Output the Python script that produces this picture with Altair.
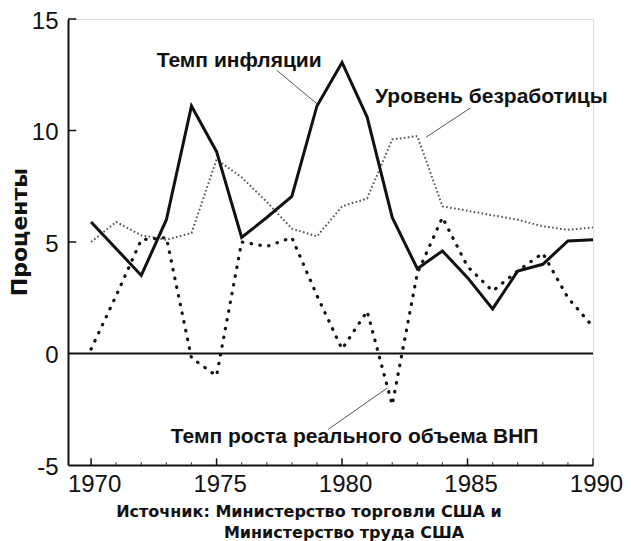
import altair as alt
import pandas as pd

years = list(range(1970, 1991))
inflation = [5.9, 4.7, 3.5, 6.0, 11.1, 9.05, 5.2, 6.1, 7.05, 11.1, 13.05, 10.6,
             6.1, 3.8, 4.6, 3.4, 2.0, 3.7, 4.0, 5.05, 5.1]
unemployment = [5.0, 5.9, 5.3, 5.1, 5.4, 8.7, 7.9, 6.8, 5.6, 5.25, 6.6, 6.95,
                9.6, 9.75, 6.6, 6.4, 6.2, 6.0, 5.7, 5.55, 5.65]
gnp_growth = [0.2, 2.6, 5.1, 5.2, -0.2, -1.0, 5.0, 4.8, 5.2, 2.6, 0.2, 1.9,
              -2.3, 3.6, 6.1, 3.9, 2.8, 3.7, 4.5, 2.5, 1.2]

x_ticks = [1970, 1975, 1980, 1985, 1990]
y_ticks = [-5, 0, 5, 10, 15]
label_texts = ["Темп инфляции", "Уровень безработицы", "Темп роста реального объема ВНП"]
label_x = [1975.9, 1985.95, 1980.5]
label_y = [13.1, 11.5, -3.75]
leader_x = [1977.4, 1985.1, 1981.8]
leader_y = [12.7, 11.0, -1.55]
leader_x2 = [1979.0, 1983.35, 1979.45]
leader_y2 = [11.2, 9.7, -3.4]
source_lines = ["Источник: Министерство торговли США и", "Министерство труда США"]
source_x = [1978.68, 1980.08]
source_y = [-7.33, -8.27]

X0, X1 = 1969.08, 1990
FONT = "Liberation Sans"

xs = alt.Scale(domain=[X0, X1], nice=False, zero=False)
ys = alt.Scale(domain=[-5, 15], nice=False, zero=False)

df = pd.DataFrame({"year": years, "inf": inflation, "unemp": unemployment, "gnp": gnp_growth})

base = alt.Chart(df)

gnp_line = base.mark_line(color="#111", strokeWidth=3.2, strokeDash=[0.5, 8.4],
                          strokeCap="round").encode(
    x=alt.X("year:Q", scale=xs,
            axis=alt.Axis(values=x_ticks, format="d", tickSize=0, labelPadding=7,
                          labelOffset=3,
                          labelFontSize=24, labelFont=FONT, labelColor="#111",
                          domainColor="#111", domainWidth=2, grid=False, title=None,
                          labelFlush=False)),
    y=alt.Y("gnp:Q", scale=ys,
            axis=alt.Axis(values=y_ticks, tickSize=0, labelPadding=10, labelOffset=2,
                          labelExpr="replace(datum.label, '\u2212', '-')",
                          labelFontSize=24, labelFont=FONT, labelColor="#111",
                          domainColor="#111", domainWidth=2, grid=False, title=None)),
)
unemp_line = base.mark_line(color="#555", strokeWidth=2, strokeDash=[1.6, 2.4]).encode(
    x=alt.X("year:Q", scale=xs), y=alt.Y("unemp:Q", scale=ys))
inf_line = base.mark_line(color="#111", strokeWidth=3).encode(
    x=alt.X("year:Q", scale=xs), y=alt.Y("inf:Q", scale=ys))

zero_df = pd.DataFrame({"x": [X0], "x2": [X1], "y": [0]})
zero_rule = alt.Chart(zero_df).mark_rule(color="#111", strokeWidth=2).encode(
    x=alt.X("x:Q", scale=xs), x2="x2:Q", y=alt.Y("y:Q", scale=ys))

# inward tick marks
ymaj = pd.DataFrame({"v": [5, 10, 15], "x": [X0] * 3, "x2": [X0 + 0.33] * 3})
ytick_rules = alt.Chart(ymaj).mark_rule(color="#111", strokeWidth=1.5).encode(
    x=alt.X("x:Q", scale=xs), x2="x2:Q", y=alt.Y("v:Q", scale=ys))
xmaj = pd.DataFrame({"v": x_ticks, "y": [-5] * 5, "y2": [-4.7] * 5})
xtick_rules = alt.Chart(xmaj).mark_rule(color="#111", strokeWidth=1.5).encode(
    x=alt.X("v:Q", scale=xs), y=alt.Y("y:Q", scale=ys), y2="y2:Q")
minor = [yr for yr in years if yr not in x_ticks]
xmin = pd.DataFrame({"v": minor, "y": [-5] * len(minor), "y2": [-4.88] * len(minor)})
xminor_rules = alt.Chart(xmin).mark_rule(color="#444", strokeWidth=1.2).encode(
    x=alt.X("v:Q", scale=xs), y=alt.Y("y:Q", scale=ys), y2="y2:Q")

lead_df = pd.DataFrame({"x": leader_x, "y": leader_y, "x2": leader_x2, "y2": leader_y2})
leaders = alt.Chart(lead_df).mark_rule(color="#555", strokeWidth=1).encode(
    x=alt.X("x:Q", scale=xs), y=alt.Y("y:Q", scale=ys), x2="x2:Q", y2="y2:Q")

lab_df = pd.DataFrame({"t": label_texts, "x": label_x, "y": label_y})
labels = alt.Chart(lab_df).mark_text(font=FONT, fontSize=21, fontWeight="bold",
                                     color="#111", align="center", baseline="middle").encode(
    x=alt.X("x:Q", scale=xs), y=alt.Y("y:Q", scale=ys), text="t:N")

src_df = pd.DataFrame({"t": source_lines, "x": source_x, "y": source_y})
source = alt.Chart(src_df).mark_text(font="DejaVu Sans", fontSize=16, fontWeight="bold",
                                     color="#111", align="center", baseline="alphabetic").encode(
    x=alt.X("x:Q", scale=xs), y=alt.Y("y:Q", scale=ys), text="t:N")

ytitle = alt.Chart(pd.DataFrame({"t": ["Проценты"]})).mark_text(
    font="DejaVu Sans", fontSize=22, fontWeight="bold", color="#111", angle=270,
    align="center", baseline="middle").encode(
    x=alt.value(-48), y=alt.value(213), text="t:N")

chart = alt.layer(
    gnp_line, unemp_line, zero_rule, inf_line, ytick_rules, xtick_rules, xminor_rules,
    leaders, labels, source, ytitle
).properties(
    width=525, height=446,
    autosize=alt.AutoSizeParams(type="none"),
    padding={"left": 60, "top": 11, "right": 30, "bottom": 76},
).configure_view(stroke=None).configure(background="white")

chart.save("out.html", embed_options={"renderer": "svg", "actions": False})
